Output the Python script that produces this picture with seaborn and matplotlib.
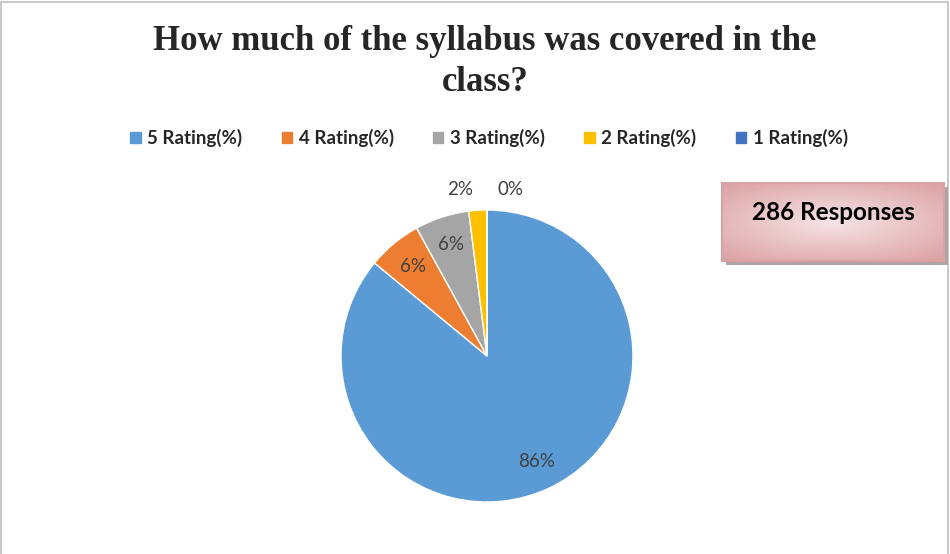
import seaborn as sns
import matplotlib.pyplot as plt
import numpy as np
from matplotlib.patches import Rectangle

ratings = ['5 Rating(%)', '4 Rating(%)', '3 Rating(%)', '2 Rating(%)', '1 Rating(%)']
shares = [86, 6, 6, 2, 0]
pct_labels = ['86%', '6%', '6%', '2%', '0%']
colors = ['#5B9BD5', '#ED7D31', '#A5A5A5', '#FFC000', '#4472C4']
responses = 286

sns.set_style('white')
plt.rcParams['font.family'] = ['Lato', 'DejaVu Sans']

W, H = 950, 554
fig = plt.figure(figsize=(W / 100, H / 100), dpi=100)

# thin grey frame around the chart area
fig.patches.append(Rectangle((0.001, -0.01), 0.997, 1.007, transform=fig.transFigure,
                             fill=False, edgecolor='#BFBFBF', linewidth=1.2))

# pie axes: centre ~ (487, 356) px, radius ~146 px
r = 146
side = 2 * r * 1.25
ax = fig.add_axes([(487 - side / 2) / W, (H - 356 - side / 2) / H, side / W, side / H])
wedges, _ = ax.pie(shares, colors=colors, startangle=90, counterclock=False,
                   wedgeprops=dict(edgecolor='white', linewidth=1))
ax.set_xlim(-1.25, 1.25)
ax.set_ylim(-1.25, 1.25)
ax.set_aspect('equal')

# data labels: inside for big slices, outside for tiny ones
for i, w in enumerate(wedges):
    mid = np.deg2rad((w.theta1 + w.theta2) / 2)
    if shares[i] >= 5:
        d = 0.8
        x, y = d * np.cos(mid), d * np.sin(mid)
    else:
        x, y = 1.15 * np.cos(mid), 1.14 * np.sin(mid)
        x += -0.11 if i == 3 else 0.16
    ax.text(x, y, pct_labels[i], ha='center', va='center', fontsize=13.5, color='#404040')

# title
fig.text(485 / W, 1 - 62 / H, 'How much of the syllabus was covered in the\nclass?',
         ha='center', va='center', fontsize=25, fontweight='bold',
         family='Liberation Serif', linespacing=1.35)

# legend
handles = [Rectangle((0, 0), 1, 1, color=c) for c in colors]
fig.legend(handles, ratings, loc='center', bbox_to_anchor=(489 / W, 1 - 138 / H), ncol=5,
           frameon=False, handlelength=0.55, handleheight=0.55,
           handletextpad=0.35, columnspacing=2.1, prop=dict(size=13.5, weight='bold'))

# "286 Responses" box with shadow and pink gradient
bx, by, bw, bh = 722, 183, 222, 78
fig.patches.append(Rectangle(((bx + 4) / W, (H - by - bh - 4) / H), bw / W, bh / H,
                             transform=fig.transFigure, facecolor='#B3A2A2',
                             edgecolor='none', zorder=1))
bax = fig.add_axes([bx / W, (H - by - bh) / H, bw / W, bh / H], zorder=2)
gx, gy = np.meshgrid(np.linspace(-1, 1, 200), np.linspace(-1, 1, 80))
grad = np.clip(0.75 * np.sqrt(gx ** 2 * 0.8 + gy ** 2), 0, 1)
bax.imshow(grad, cmap=sns.blend_palette(['#F6E4E6', '#D99A9C'], as_cmap=True),
           aspect='auto', extent=(0, 1, 0, 1), vmin=0, vmax=1.1)
bax.set_xticks([])
bax.set_yticks([])
for s in bax.spines.values():
    s.set_visible(True)
    s.set_color('#D7A3A5')
    s.set_linewidth(1.5)
bax.text(0.5, 0.62, f'{responses} Responses', ha='center', va='center',
         fontsize=17.5, fontweight='bold', color='black', transform=bax.transAxes)

fig.savefig('out.png', dpi=100)
